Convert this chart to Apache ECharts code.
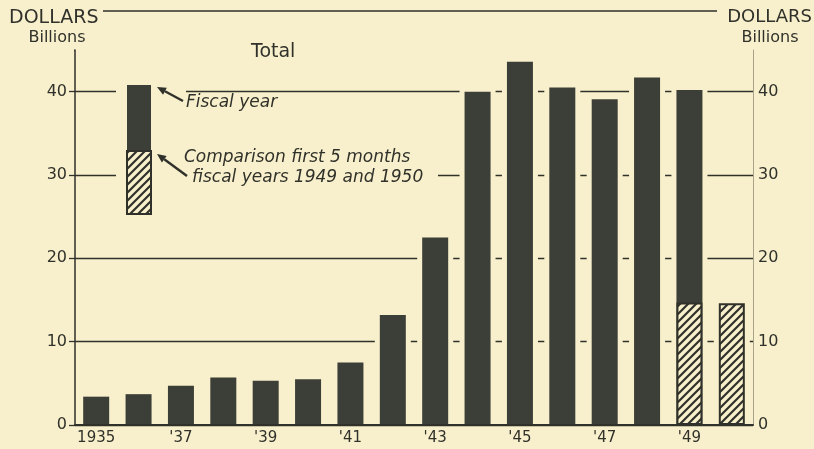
<!DOCTYPE html>
<html>
<head>
<meta charset="utf-8">
<script src="https://cdn.jsdelivr.net/npm/echarts@6/dist/echarts.min.js"></script>
<style>
html,body{margin:0;padding:0;background:#f8f0cc;}
#main{width:814px;height:449px;}
</style>
</head>
<body>
<div id="main"></div>
<script>
// data (billions of dollars)
var years = ['1935','1936','1937','1938','1939','1940','1941','1942','1943','1944','1945','1946','1947','1948','1949','1950'];
var yearLabels = ['1935','',"'37",'',"'39",'',"'41",'',"'43",'',"'45",'',"'47",'',"'49",''];
var fiscalYear = [3.4, 3.7, 4.7, 5.7, 5.3, 5.5, 7.5, 13.2, 22.5, 40.0, 43.6, 40.5, 39.1, 41.7, 40.2, null];
var firstFiveMonths = [null, null, null, null, null, null, null, null, null, null, null, null, null, null, 14.7, 14.6];
var yTicks = [0, 10, 20, 30, 40];

var bg = '#f8f0cc';
var ink = '#30312a';
var barColor = '#3c3f37';
var font = 'DejaVu Sans';

//斜线填充
function hatch(){
    var c = document.createElement('canvas');
    c.width = 8; c.height = 8;
    var ctx = c.getContext('2d');
    ctx.fillStyle = bg;
    ctx.fillRect(0,0,8,8);
    ctx.strokeStyle = ink;
    ctx.lineWidth = 2.2;
    ctx.beginPath();
    ctx.moveTo(-2,10); ctx.lineTo(10,-2);
    ctx.moveTo(-6,6); ctx.lineTo(6,-6);
    ctx.moveTo(2,14); ctx.lineTo(14,2);
    ctx.stroke();
    return {image: c, repeat: 'repeat'};
}
var pattern = hatch();

// background halo behind each bar, so grid lines stop short of the bars
var halo = fiscalYear.map(function(v,i){
    return Math.max(v || 0, firstFiveMonths[i] || 0) + 0.6;
});

//箭头
function arrow(x1,y1,x2,y2){
    var dx = x2-x1, dy = y2-y1, len = Math.sqrt(dx*dx+dy*dy);
    var ux = dx/len, uy = dy/len;
    var bx = x2-ux*9, by = y2-uy*9;
    return [
        {type:'line', shape:{x1:x1,y1:y1,x2:bx,y2:by}, style:{stroke:ink, lineWidth:2.4}, z:20},
        {type:'polygon', shape:{points:[[x2,y2],[bx-uy*4,by+ux*4],[bx+uy*4,by-ux*4]]}, style:{fill:ink}, z:20}
    ];
}

var chart = echarts.init(document.getElementById('main'));

var graphics = [
    {type:'line', shape:{x1:103,y1:11,x2:717,y2:11}, style:{stroke:ink, lineWidth:1.5}, z:20},
    {type:'text', style:{text:'DOLLARS', x:9, y:18, font:'19px "'+font+'"', fill:ink, textVerticalAlign:'middle'}, z:20},
    {type:'text', style:{text:'Billions', x:57, y:38, font:'16px "'+font+'"', fill:ink, textAlign:'center', textVerticalAlign:'middle'}, z:20},
    {type:'text', style:{text:'DOLLARS', x:812, y:17, font:'18px "'+font+'"', fill:ink, textAlign:'right', textVerticalAlign:'middle'}, z:20},
    {type:'text', style:{text:'Billions', x:770, y:38, font:'16px "'+font+'"', fill:ink, textAlign:'center', textVerticalAlign:'middle'}, z:20},
    {type:'text', style:{text:'Total', x:251, y:52, font:'19px "'+font+'"', fill:ink, textVerticalAlign:'middle'}, z:20},
    // hide the tick at the axis top (max 45)
    {type:'rect', shape:{x:62,y:46,width:12,height:8}, style:{fill:bg}, z:15},
    // mask grid lines around the key
    {type:'rect', shape:{x:116,y:80,width:70,height:142}, style:{fill:bg}, z:15},
    {type:'rect', shape:{x:116,y:166,width:322,height:22}, style:{fill:bg}, z:15},
    {type:'rect', shape:{x:127,y:85,width:24,height:66}, style:{fill:barColor}, z:20},
    {type:'rect', shape:{x:127,y:151,width:24,height:63}, style:{fill:pattern, stroke:ink, lineWidth:2}, z:20},
    {type:'text', style:{text:'Fiscal year', x:186, y:103, font:'italic 17px "'+font+'"', fill:ink, textVerticalAlign:'middle'}, z:20},
    {type:'text', style:{text:'Comparison first 5 months', x:184, y:158, font:'italic 17px "'+font+'"', fill:ink, textVerticalAlign:'middle'}, z:20},
    {type:'text', style:{text:'fiscal years 1949 and 1950', x:192, y:178, font:'italic 17px "'+font+'"', fill:ink, textVerticalAlign:'middle'}, z:20}
].concat(arrow(183,101,157,87), arrow(187,176,157,154));

var option = {
    backgroundColor: bg,
    animation: false,
    textStyle: {fontFamily: font},
    grid: {left:75, right:61, top:50, bottom:24},
    xAxis: [
        {
            type:'category', data: years, z:10,
            axisLine:{lineStyle:{color:ink, width:2}},
            axisTick:{show:false},
            axisLabel:{interval:0, fontSize:15, color:ink, margin:6, formatter:function(v,i){ return yearLabels[i]; }}
        },
        {type:'category', data: years, show:false}
    ],
    yAxis: [
        {
            type:'value', min:0, max:45, interval:10, position:'left',
            axisLine:{show:true, lineStyle:{color:ink, width:1.5}},
            axisTick:{show:true, length:6, lineStyle:{color:ink, width:1.3}},
            axisLabel:{fontSize:16, color:ink, margin:8, formatter:function(v){ return yTicks.indexOf(v) >= 0 ? v : ''; }},
            splitLine:{show:true, lineStyle:{color:[ink,ink,ink,ink,ink,'rgba(0,0,0,0)'], width:1.3}}
        },
        {
            type:'value', min:0, max:45, interval:10, position:'right',
            axisLine:{show:true, lineStyle:{color:'#a9a38c', width:1}},
            axisTick:{show:false},
            axisLabel:{fontSize:16, color:ink, margin:5, formatter:function(v){ return yTicks.indexOf(v) >= 0 ? v : ''; }},
            splitLine:{show:false}
        }
    ],
    graphic: graphics,
    series: [
        {name:'halo', type:'bar', xAxisIndex:1, data: halo, barWidth:36, silent:true, itemStyle:{color:bg}, z:2},
        {name:'Fiscal year', type:'bar', xAxisIndex:0, data: fiscalYear, barWidth:26, barGap:'-100%', itemStyle:{color:barColor}, z:3},
        {name:'First 5 months', type:'bar', xAxisIndex:0, data: firstFiveMonths, barWidth:26, barGap:'-100%', itemStyle:{color:pattern, borderColor:ink, borderWidth:2}, z:4}
    ]
};
chart.setOption(option);
</script>
</body>
</html>
